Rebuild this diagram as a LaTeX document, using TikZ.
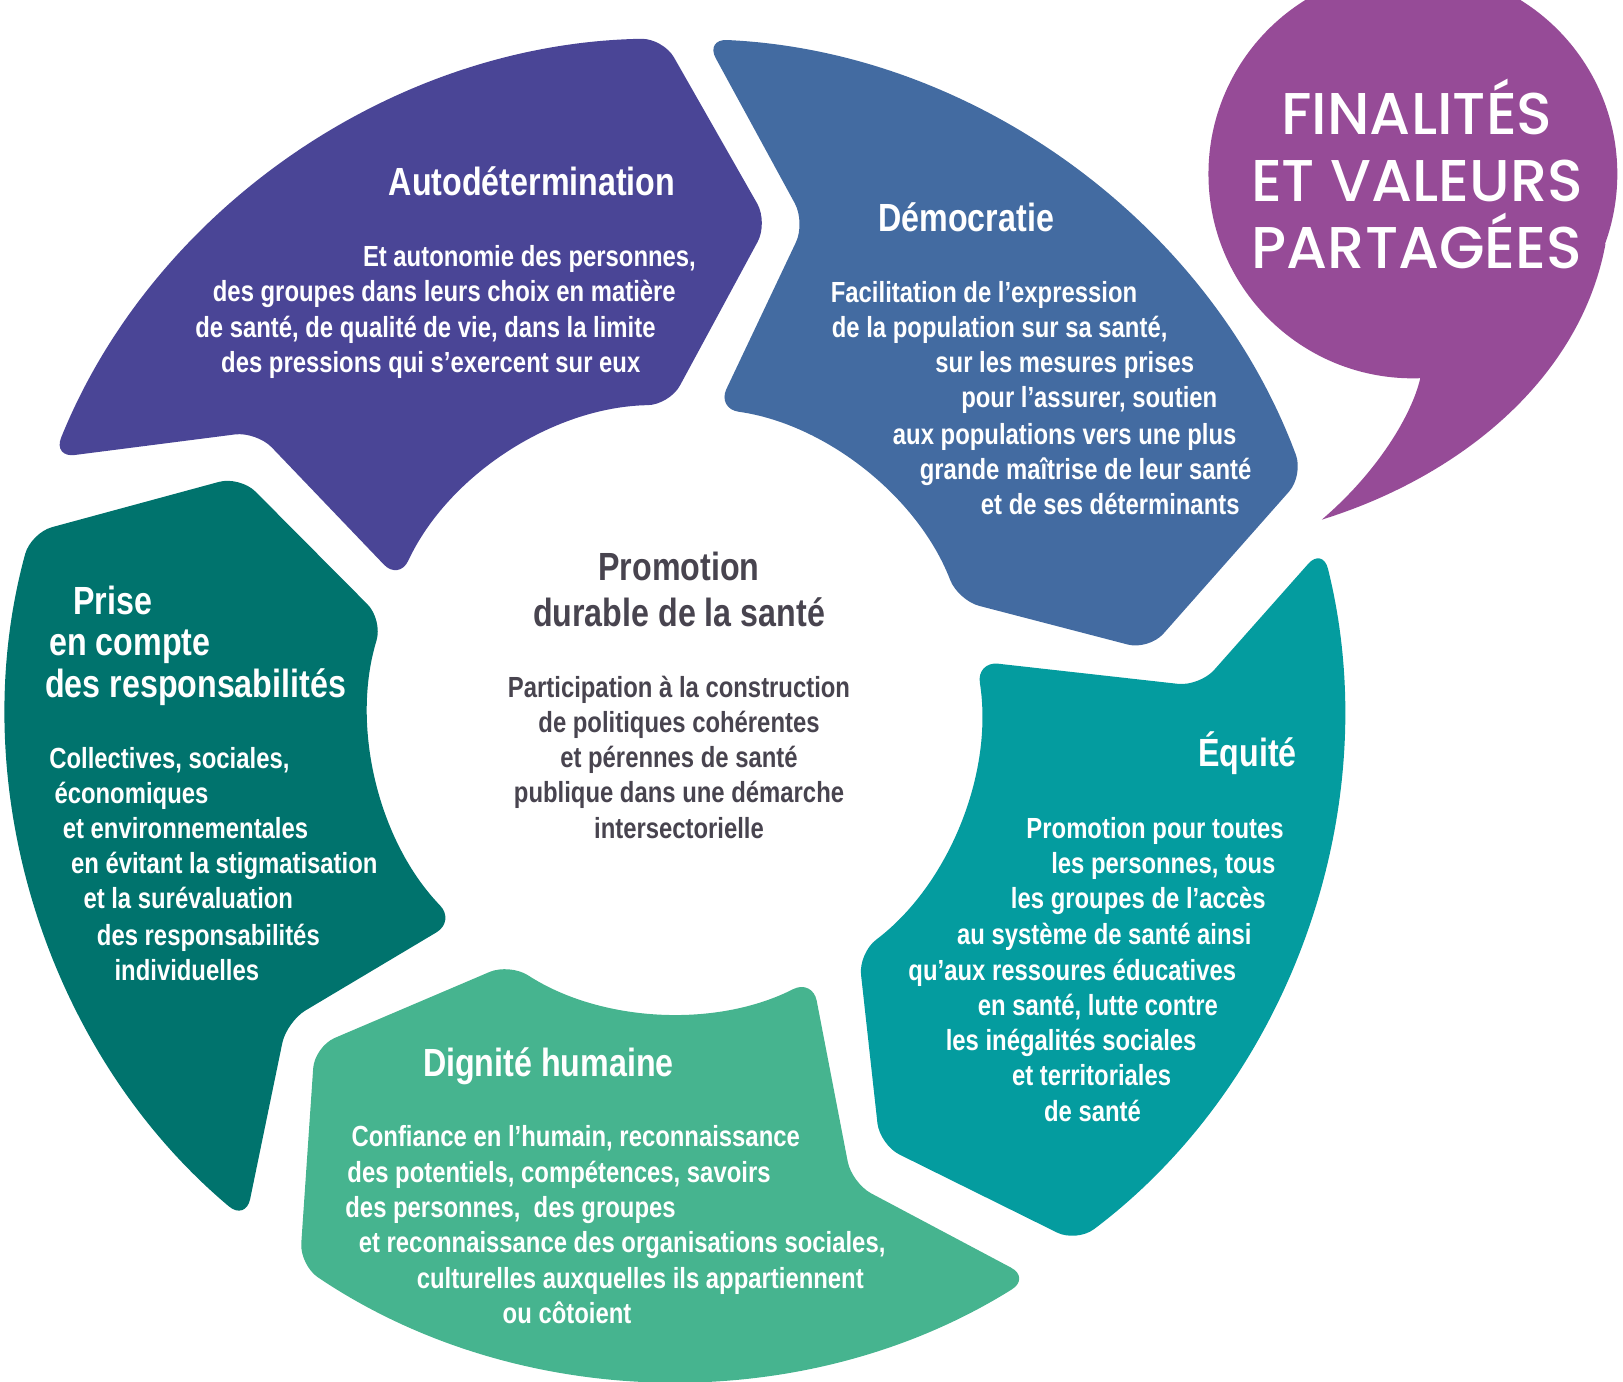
\documentclass[tikz,border=0pt]{standalone}
\usepackage{fontspec}
\setmainfont{Liberation Sans}[FakeStretch=0.82]
\IfFontExistsTF{Poppins Medium}
  {\newfontfamily\bubblefont{Poppins Medium}}
  {\newfontfamily\bubblefont{Poppins}[FakeBold=0.4]}
\usetikzlibrary{calc}

\definecolor{autocol}{HTML}{4A4596}
\definecolor{democol}{HTML}{436BA1}
\definecolor{bubblecol}{HTML}{964B97}
\definecolor{equicol}{HTML}{049C9F}
\definecolor{dignicol}{HTML}{46B48F}
\definecolor{prisecol}{HTML}{00736D}
\definecolor{centertxt}{HTML}{48444F}

\begin{document}
\begin{tikzpicture}[
  piece/.style={rounded corners=6pt},
  ttl/.style={font=\bfseries\fontsize{10.8}{11.4}\selectfont, text=white,
    inner sep=0pt, anchor=west, text height=7.7pt, text depth=0pt},
  txt/.style={font=\bfseries\fontsize{8}{9.7}\selectfont, text=white,
    inner sep=0pt, anchor=west, text height=5.7pt, text depth=0pt}
]
\clip (-6.52,-6.50) rectangle (9.16,6.85);

% ===== Autodetermination (haut gauche) =====
\fill[autocol, piece] ($(-4.04,2.68)!0.5!(155:2.94)$) -- (155:2.94)
  arc[start angle=155, end angle=91, radius=2.94]
  -- (0.90,4.70) -- (91:6.48) arc[start angle=91, end angle=158, radius=6.48]
  -- (-4.04,2.68) -- cycle;
\node[ttl] (auto-t) at (-2.77,5.10) {Autodétermination};
\foreach \x/\y/\lbl [count=\i] in {-3.02/4.38/{Et autonomie des personnes,},
    -4.47/4.04/{des groupes dans leurs choix en matière},
    -4.64/3.69/{de santé, de qualité de vie, dans la limite},
    -4.39/3.35/{des pressions qui s’exercent sur eux}}
  \node[txt] (auto-\i) at (\x,\y) {\lbl};

% ===== Democratie (haut droite) =====
\fill[democol, piece] ($(1.26,4.70)!0.5!(82:2.93)$) -- (82:2.93)
  arc[start angle=82, end angle=21, radius=2.93]
  -- (4.58,0.57) -- (20.4:6.48) arc[start angle=20.4, end angle=87.4, radius=6.48]
  -- (1.26,4.70) -- cycle;
\node[ttl] (demo-t) at (1.96,4.75) {Démocratie};
\foreach \x/\y/\lbl [count=\i] in {1.50/4.03/{Facilitation de l’expression},
    1.51/3.69/{de la population sur sa santé,},
    2.51/3.35/{sur les mesures prises},
    2.76/3.01/{pour l’assurer, soutien},
    2.10/2.66/{aux populations vers une plus},
    2.36/2.32/{grande maîtrise de leur santé},
    2.95/1.98/{et de ses déterminants}}
  \node[txt] (demo-\i) at (\x,\y) {\lbl};

% ===== Equite (droite) =====
\fill[equicol, piece] ($(1.98,-4.21)!0.5!(-53:2.95)$) -- (-53:2.95)
  arc[start angle=-53, end angle=9, radius=2.95]
  -- (5.07,0.22) -- (14:6.45) arc[start angle=14, end angle=-53, radius=6.45]
  -- (1.98,-4.21) -- cycle;
\node[ttl] (equi-t) at (5.05,-0.42) {Équité};
\foreach \x/\y/\lbl [count=\i] in {3.39/-1.15/{Promotion pour toutes},
    3.63/-1.49/{les personnes, tous},
    3.24/-1.83/{les groupes de l’accès},
    2.72/-2.17/{au système de santé ainsi},
    2.25/-2.52/{qu’aux ressoures éducatives},
    2.92/-2.86/{en santé, lutte contre},
    2.61/-3.20/{les inégalités sociales},
    3.25/-3.54/{et territoriales},
    3.56/-3.88/{de santé}}
  \node[txt] (equi-\i) at (\x,\y) {\lbl};

% ===== Dignite humaine (bas) =====
\fill[dignicol, piece] ($(-3.48,-3.26)!0.5!(-123:2.93)$) -- (-123:2.93)
  arc[start angle=-123, end angle=-63, radius=2.93]
  -- (1.71,-4.58) -- (-58:6.48) arc[start angle=-58, end angle=-124, radius=6.48]
  -- (-3.48,-3.26) -- cycle;
\node[ttl] (digni-t) at (-2.44,-3.41) {Dignité humaine};
\foreach \x/\y/\lbl [count=\i] in {-3.13/-4.13/{Confiance en l’humain, reconnaissance},
    -3.17/-4.47/{des potentiels, compétences, savoirs},
    -3.19/-4.81/{des personnes,\ \ des groupes},
    -3.06/-5.15/{et reconnaissance des organisations sociales,},
    -2.50/-5.50/{culturelles auxquelles ils appartiennent},
    -1.67/-5.84/{ou côtoient}}
  \node[txt] (digni-\i) at (\x,\y) {\lbl};

% ===== Prise en compte des responsabilites (gauche) =====
\fill[prisecol, piece] ($(164.7:6.45)!0.5!(-4.20,2.25)$) -- (-4.20,2.25) -- (163:2.95)
  arc[start angle=163, end angle=224, radius=2.95]
  -- (-3.75,-3.02) -- (230:6.45) arc[start angle=230, end angle=164.7, radius=6.45]
  -- cycle;
\foreach \x/\y/\lbl [count=\i] in {-5.82/1.05/{Prise},
    -6.05/0.65/{en compte},
    -6.09/0.25/{des responsabilités}}
  \node[ttl] (prise-t\i) at (\x,\y) {\lbl};
\foreach \x/\y/\lbl [count=\i] in {-6.05/-0.47/{Collectives, sociales,},
    -6.00/-0.81/{économiques},
    -5.92/-1.15/{et environnementales},
    -5.84/-1.49/{en évitant la stigmatisation},
    -5.72/-1.83/{et la surévaluation},
    -5.59/-2.18/{des responsabilités},
    -5.42/-2.52/{individuelles}}
  \node[txt] (prise-\i) at (\x,\y) {\lbl};

% ===== Centre =====
\node[font=\bfseries\fontsize{10.8}{12.8}\selectfont, text=centertxt, align=center,
  inner sep=0pt] (promo) at (0.04,1.155) {Promotion\\durable de la santé};
\node[font=\bfseries\fontsize{8}{9.7}\selectfont, text=centertxt, align=center,
  inner sep=0pt] (particip) at (0.04,-0.465)
  {Participation à la construction\\de politiques cohérentes\\et pérennes de santé\\publique dans une démarche\\intersectorielle};

% ===== Bulle =====
\fill[bubblecol] (7.13,5.17) circle (1.975);
\fill[bubblecol] (7.20,3.19) .. controls (7.12,2.85) and (6.8,2.3) .. (6.25,1.83)
  .. controls (7.6,2.25) and (8.75,3.2) .. (8.99,4.49) -- (7.13,5.17) -- cycle;
\node[font=\bubblefont\fontsize{16.2}{18.5}\selectfont, text=white, align=center,
  inner sep=0pt] (finalites) at (7.17,5.17) {FINALITÉS\\ET VALEURS\\PARTAGÉES};

\end{tikzpicture}
\end{document}
